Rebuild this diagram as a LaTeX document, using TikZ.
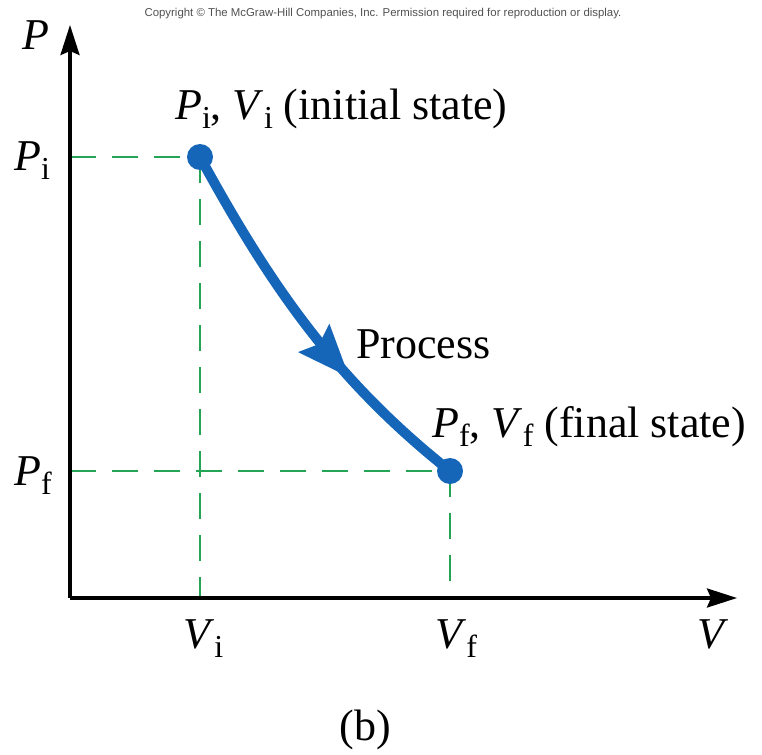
\documentclass[tikz,border=0pt]{standalone}
\usepackage{fontspec}
\setmainfont{Liberation Serif}
\newfontfamily\cpyfont{Liberation Sans}
\usetikzlibrary{arrows.meta,decorations.markings}
\definecolor{procblue}{RGB}{21,101,184}
\definecolor{guidegreen}{RGB}{35,165,85}
\definecolor{cpygray}{RGB}{80,80,80}
\newcommand\lsub[1]{\raisebox{-9pt}{\fontsize{32}{32}\selectfont #1}}
\tikzset{
  lbl/.style={inner sep=0pt, anchor=base west, font=\fontsize{44}{50}\selectfont},
  axisline/.style={line width=3.2pt, -{Stealth[length=30pt,width=19pt,inset=4pt]}},
  guide/.style={guidegreen, line width=2.7pt, dash pattern=on 26pt off 16pt},
  procline/.style={procblue, line width=10pt,
    postaction={decorate, decoration={markings,
      mark=at position 0.66 with {\arrow{Stealth[length=52pt,width=40pt,inset=7pt]}}}}},
  statedot/.style={circle, fill=procblue, minimum size=26pt, inner sep=0pt}
}
\begin{document}
\begin{tikzpicture}[x=1pt,y=-1pt]
\useasboundingbox (0,0) rectangle (762,754);
% reference points
\coordinate (O) at (70,598);
\coordinate (ytop) at (70,25);
\coordinate (xend) at (737,598);
\coordinate (si) at (200,157);
\coordinate (sf) at (450,471);
\coordinate (Pi) at (70,157);
\coordinate (Pf) at (70,471);
\coordinate (Vi) at (200,598);
\coordinate (Vf) at (450,598);
% guide lines
\draw[guide] (Pi) -- (si);
\draw[guide] (si) -- (Vi);
\draw[guide] (Pf) -- (sf);
\draw[guide] (sf) -- (Vf);
% axes
\draw[axisline] (O) -- (ytop);
\draw[axisline] (O) -- (xend);
% process curve
\draw[procline] (si) .. controls (270,285) and (335,380) .. (sf);
\node[statedot] (i) at (si) {};
\node[statedot] (f) at (sf) {};
% labels
\node[lbl] (lp) at (22,50) {\textit{P}};
\node[lbl] (lpi) at (14,171) {\textit{P}\lsub{i}};
\node[lbl] (lpf) at (14,485) {\textit{P}\lsub{f}};
\node[lbl] (lvi) at (183,648) {\textit{V}\lsub{i}};
\node[lbl] (lvf) at (435,648) {\textit{V}\lsub{f}};
\node[lbl] (lv) at (697,648) {\textit{V}};
\node[lbl] (linit) at (175,120) {\textit{P}\lsub{i}, \textit{V}\lsub{i} (initial state)};
\node[lbl] (lfin) at (432,437) {\textit{P}\lsub{f}, \textit{V}\lsub{f} (final state)};
\node[lbl] (lproc) at (356,358) {Process};
\node[lbl, anchor=base] (lb) at (365,740) {(b)};
\node[inner sep=0pt, text=cpygray, font=\cpyfont\fontsize{11.4}{12}\selectfont] (copy) at (383,14) {Copyright \textcopyright{} The McGraw-Hill Companies, Inc. Permission required for reproduction or display.};
\end{tikzpicture}
\end{document}
